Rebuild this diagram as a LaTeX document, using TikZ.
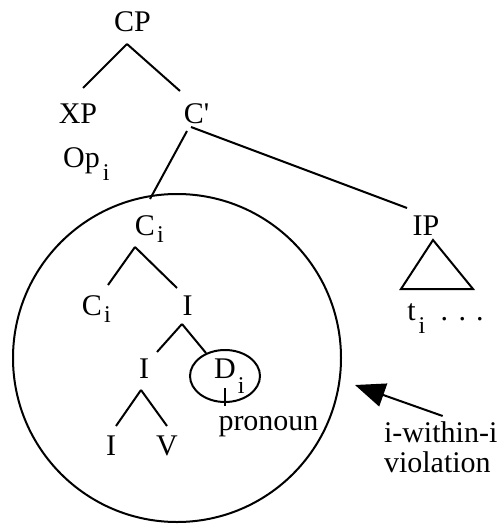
\documentclass[tikz,border=0pt]{standalone}
\usepackage{fontspec}
\setmainfont{Liberation Serif}[Ligatures=TeXOff]
\usetikzlibrary{arrows.meta,shapes.geometric}
\newcommand\mysub[3]{\rlap{\hspace{#1}\raisebox{-#2}{\fontsize{24}{24}\selectfont #3}}}
\begin{document}
\begin{tikzpicture}[x=1pt,y=-1pt,line width=2pt,
  lbl/.style={anchor=base,inner sep=0pt,text height=20pt,text depth=0pt,font=\fontsize{30}{36}\selectfont},
  lblw/.style={lbl,anchor=base west}]
\useasboundingbox (0,0) rectangle (502,527);
\node[lbl] (cp) at (132.5,32) {CP};
\node[lbl] (xp) at (78,123) {XP};
\node[lbl] (cb) at (196.5,123) {C'};
\node[lbl] (op) at (81.5,167) {Op\mysub{3pt}{13pt}{i}};
\node[lbl] (ci1) at (145,235) {C\mysub{2pt}{7pt}{i}};
\node[lbl] (ip) at (426,235) {IP};
\node[lbl] (ci2) at (92,315) {C\mysub{2pt}{7pt}{i}};
\node[lbl] (i1) at (187.5,315) {I};
\node[lbl] (i2) at (144,378) {I};
\node[draw,ellipse,minimum width=70pt,minimum height=52pt,inner sep=0pt] (ell) at (225,376) {};
\node[lbl] (d) at (225,378) {D\mysub{2pt}{15pt}{i}};
\node[lbl] (pron) at (268.5,430) {pronoun};
\node[lbl] (i3) at (111,455) {I};
\node[lbl] (v) at (167,455) {V};
\node[lbl] (t) at (411.5,320) {t\mysub{3pt}{13pt}{i}\rlap{\hspace{25pt}.\hspace{10.5pt}.\hspace{10pt}.}};
\node[lblw] (viol1) at (383,442) {i-within-i};
\node[lblw] (viol2) at (383,472) {violation};
\coordinate (tip) at (355,385);
\draw (177,358) circle [radius=164pt];
\draw ([shift={(-5.5,11)}]cp.south) -- ([shift={(5,-14)}]xp.north);
\draw ([shift={(-5.5,11)}]cp.south) -- ([shift={(-16.5,-11)}]cb.north);
\draw ([shift={(-9.5,7)}]cb.south) -- ([shift={(5,-15)}]ci1.north);
\draw ([shift={(-5.5,3)}]cb.south) -- ([shift={(-19,-6)}]ip.north);
\draw ([shift={(7,4)}]ip.south) -- ++(-32,49) -- ++(72,0) -- cycle;
\draw ([shift={(-10,11)}]ci1.south) -- ([shift={(16,-9)}]ci2.north);
\draw ([shift={(-10,11)}]ci1.south) -- ([shift={(-10.5,-6)}]i1.north);
\draw ([shift={(-5.5,8)}]i1.south) -- ([shift={(13,-5)}]i2.north);
\draw ([shift={(-5.5,8)}]i1.south) -- (ell);
\draw ([shift={(0,-15)}]ell.south) -- ([shift={(0,3)}]ell.south);
\draw ([shift={(-3,11)}]i2.south) -- ([shift={(5,-8)}]i3.north);
\draw ([shift={(-3,11)}]i2.south) -- ([shift={(0,-8)}]v.north);
\draw[-{Triangle[length=30pt,width=24pt]}] ([shift={(2,-5)}]viol1.north) -- (tip);
\end{tikzpicture}
\end{document}
